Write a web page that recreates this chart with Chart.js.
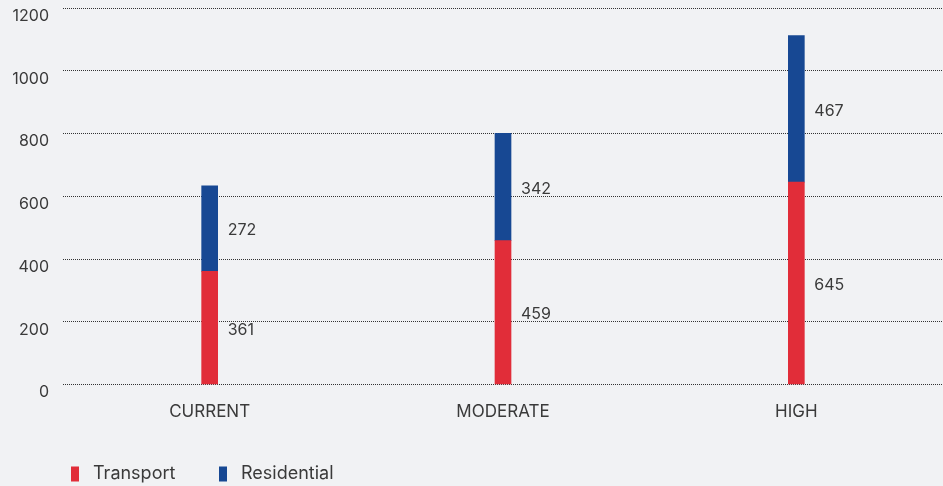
<!DOCTYPE html>
<html>
<head>
<meta charset="utf-8">
<script src="https://cdn.jsdelivr.net/npm/chart.js@4"></script>
<style>
  html, body { margin: 0; padding: 0; background: #f1f2f4; }
  #wrap { width: 943px; height: 486px; position: relative; }
</style>
</head>
<body>
<div id="wrap"><canvas id="chart"></canvas></div>
<script>
// scenario totals, stacked transport + residential
const categories = ['CURRENT', 'MODERATE', 'HIGH'];
const transport = [361, 459, 645];
const residential = [272, 342, 467];
const yTicks = [0, 200, 400, 600, 800, 1000, 1200];

const FONT = 'Inter, "Noto Sans", sans-serif';
const TEXT = '#3a3a3a';

// value labels to the right of each segment
const segLabels = {
  id: 'segLabels',
  afterDatasetsDraw(chart) {
    const ctx = chart.ctx;
    ctx.save();
    ctx.font = '16px ' + FONT;
    ctx.fillStyle = TEXT;
    ctx.textAlign = 'left';
    ctx.textBaseline = 'middle';
    chart.data.datasets.forEach((ds, i) => {
      chart.getDatasetMeta(i).data.forEach((el, j) => {
        ctx.fillText(String(ds.data[j]), el.x + el.width / 2 + 10, (el.y + el.base) / 2 + 2);
      });
    });
    ctx.restore();
  }
};

// legend drawn bottom-left with tall narrow swatches
const bottomLegend = {
  id: 'bottomLegend',
  afterDraw(chart) {
    const ctx = chart.ctx;
    ctx.save();
    ctx.font = '18px ' + FONT;
    ctx.textBaseline = 'middle';
    let x = 71;
    const y = 474;
    chart.data.datasets.forEach(ds => {
      ctx.fillStyle = ds.backgroundColor;
      ctx.fillRect(x, y - 7.5, 8, 15);
      ctx.fillStyle = TEXT;
      ctx.fillText(ds.label, x + 22, y);
      x += 148;
    });
    ctx.restore();
  }
};

new Chart(document.getElementById('chart'), {
  type: 'bar',
  data: {
    labels: categories,
    datasets: [
      { label: 'Transport', data: transport, backgroundColor: '#e12d39', barThickness: 16 },
      { label: 'Residential', data: residential, backgroundColor: '#174893', barThickness: 16 }
    ]
  },
  options: {
    responsive: true,
    maintainAspectRatio: false,
    animation: false,
    layout: { padding: { top: 8, right: 0, bottom: 47, left: 0 } },
    plugins: { legend: { display: false }, tooltip: { enabled: false } },
    scales: {
      x: {
        stacked: true,
        grid: { display: false, drawTicks: false },
        border: { display: false },
        ticks: { color: TEXT, font: { family: FONT, size: 17 }, padding: 17 }
      },
      y: {
        stacked: true,
        min: 0, max: 1200,
        afterBuildTicks: s => { s.ticks = yTicks.map(v => ({ value: v })); },
        afterFit: s => { s.width = 63; s.paddingTop = 0; s.paddingBottom = 0; },
        grid: { color: '#333', lineWidth: 1, drawTicks: false },
        border: { display: false, dash: [1, 1] },
        ticks: {
          color: TEXT, font: { family: FONT, size: 16 }, padding: 14, labelOffset: 8,
          callback: v => String(v)
        }
      }
    }
  },
  plugins: [segLabels, bottomLegend]
});
</script>
</body>
</html>
